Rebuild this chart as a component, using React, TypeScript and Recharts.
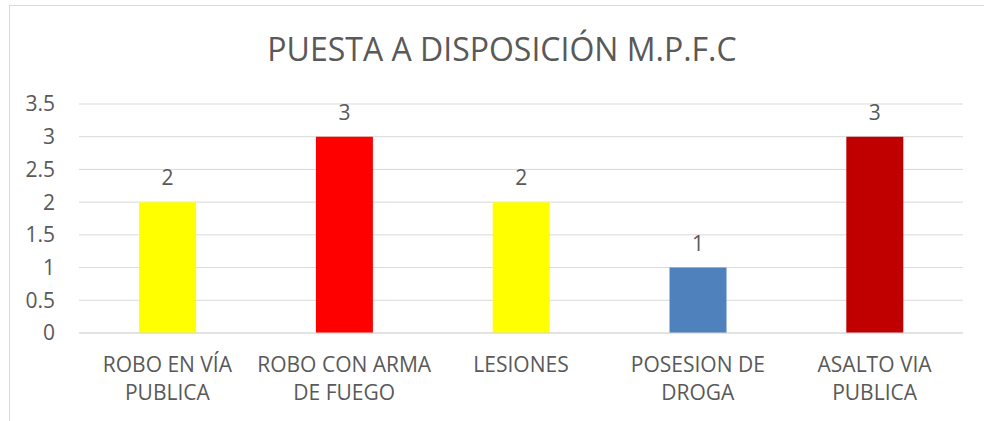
import { BarChart, Bar, XAxis, YAxis, CartesianGrid, Cell, LabelList } from 'recharts'

const categories = ['ROBO EN VÍA PUBLICA', 'ROBO CON ARMA DE FUEGO', 'LESIONES', 'POSESION DE DROGA', 'ASALTO VIA PUBLICA']
const categoryLines = [
  ['ROBO EN VÍA', 'PUBLICA'],
  ['ROBO CON ARMA', 'DE FUEGO'],
  ['LESIONES'],
  ['POSESION DE', 'DROGA'],
  ['ASALTO VIA', 'PUBLICA'],
]
const values = [2, 3, 2, 1, 3]
const barColors = ['#FFFF00', '#FF0000', '#FFFF00', '#4F81BD', '#C00000']
const yTicks = [0, 0.5, 1, 1.5, 2, 2.5, 3, 3.5]

const chartData = categories.map((name, i) => ({ name, value: values[i] }))

const FONT = '"Open Sans", sans-serif'
const TEXT = '#595959'
const GRID = '#d9d9d9'

function CategoryTick({ x, y, index }: any) {
  const lines = categoryLines[index] ?? []
  return (
    <text x={x} y={y} textAnchor="middle" fill={TEXT} fontSize={21} fontFamily={FONT}>
      {lines.map((line, i) => (
        <tspan key={i} x={x} dy={i === 0 ? 31 : 28}>
          {line}
        </tspan>
      ))}
    </text>
  )
}

export default function App() {
  return (
    <div style={{ position: 'absolute', left: 0, top: 0, width: 984, height: 421, background: '#fff' }}>
      <div
        style={{
          position: 'absolute',
          left: 9,
          top: 5,
          width: 975,
          height: 416,
          borderTop: `1px solid ${GRID}`,
          borderLeft: `1px solid ${GRID}`,
          boxSizing: 'border-box',
        }}
      />
      <BarChart
        width={984}
        height={421}
        data={chartData}
        margin={{ top: 104, right: 21, bottom: 0, left: 0 }}
        barCategoryGap="34%"
        style={{ position: 'absolute', left: 0, top: 0 }}
      >
        <text x={502} y={61} textAnchor="middle" fill={TEXT} fontSize={32} fontFamily={FONT}>
          PUESTA A DISPOSICIÓN M.P.F.C
        </text>
        <CartesianGrid vertical={false} stroke={GRID} strokeWidth={1} />
        <XAxis
          dataKey="name"
          interval={0}
          tickLine={false}
          axisLine={{ stroke: GRID }}
          tick={<CategoryTick />}
          height={88}
        />
        <YAxis
          domain={[0, 3.5]}
          ticks={yTicks}
          interval={0}
          width={79}
          tickLine={false}
          axisLine={false}
          tickSize={0}
          tickMargin={24}
          tick={{ fill: TEXT, fontSize: 21, fontFamily: FONT }}
        />
        <Bar dataKey="value" isAnimationActive={false}>
          {chartData.map((d, i) => (
            <Cell key={d.name} fill={barColors[i]} />
          ))}
          <LabelList dataKey="value" position="top" offset={17} fill={TEXT} fontSize={21} fontFamily={FONT} />
        </Bar>
      </BarChart>
    </div>
  )
}
